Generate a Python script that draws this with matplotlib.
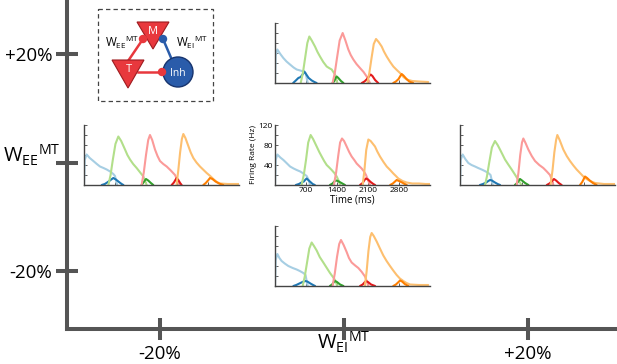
import numpy as np
import matplotlib.pyplot as plt
from matplotlib.patches import Polygon, Circle, Rectangle

plt.rcParams['font.family'] = ['Open Sans', 'DejaVu Sans']
plt.rcParams['mathtext.fontset'] = 'custom'
plt.rcParams['mathtext.rm'] = 'Open Sans'
plt.rcParams['mathtext.it'] = 'Open Sans'

W_PX, H_PX = 617, 364

# colour of each trace (light = leading population, dark = trailing one)
curve_colors = ['#a6cee3', '#1f78b4', '#b2df8a', '#33a02c',
                '#fb9a99', '#e31a1c', '#fdbf6f', '#ff7f00']

# main grid: percent change of the two weights
grid_ticks = [-20, 0, 20]
grid_labels = ['-20%', '', '+20%']

# ---- firing rates (Hz) vs time (ms), one list per trace, order = curve_colors
center_t = [
    [0, 15, 53, 120, 190, 260, 340, 420, 490, 570, 640, 715, 760, 790],
    [470, 540, 600, 650, 690, 715, 750, 800, 850, 900],
    [600, 650, 700, 750, 805, 860, 941, 1000, 1054, 1110, 1167, 1225, 1280, 1340, 1393, 1440, 1470],
    [1240, 1300, 1340, 1377, 1420, 1480, 1540, 1580],
    [1330, 1380, 1430, 1470, 1513, 1560, 1618, 1675, 1731, 1790, 1844, 1900, 1957, 2010, 2055, 2100, 2145],
    [1920, 1980, 2020, 2055, 2100, 2160, 2220, 2260],
    [1980, 2020, 2060, 2108, 2160, 2258, 2310, 2371, 2450, 2522, 2600, 2672, 2730, 2785, 2880, 2973, 3100, 3250, 3400, 3500],
    [2600, 2660, 2710, 2747, 2800, 2870, 2930, 2975],
]
center_r = [
    [0, 50, 61, 55, 50, 44, 37, 33, 30, 27, 23, 18, 10, 0],
    [0, 2, 5, 7, 11, 13, 10, 6, 2, 0],
    [0, 20, 50, 85, 100, 92, 77, 66, 57, 48, 40, 35, 30, 24, 17, 8, 0],
    [0, 3, 7, 9, 8, 5, 2, 0],
    [0, 25, 60, 85, 93, 88, 77, 66, 57, 50, 43, 38, 33, 27, 20, 10, 0],
    [0, 4, 10, 13, 11, 6, 2, 0],
    [0, 30, 70, 91, 88, 77, 67, 57, 46, 37, 30, 23, 18, 13, 8, 5, 3, 3, 2, 2],
    [0, 3, 7, 10, 8, 5, 2, 0],
]

top_t = [
    [0, 15, 53, 120, 188, 260, 339, 420, 489, 570, 640, 690, 715, 740],
    [410, 470, 527, 580, 630, 662, 700, 760, 830, 890, 940],
    [580, 630, 680, 730, 775, 830, 903, 960, 1016, 1090, 1167, 1220, 1280, 1355, 1408],
    [1300, 1340, 1370, 1393, 1430, 1490, 1545],
    [1300, 1350, 1400, 1460, 1528, 1590, 1656, 1710, 1769, 1840, 1919, 2000, 2070, 2110, 2145],
    [1960, 2020, 2080, 2130, 2160, 2200, 2260, 2330],
    [2085, 2130, 2180, 2230, 2281, 2340, 2409, 2460, 2522, 2600, 2672, 2750, 2823, 2900, 2973, 3100, 3250, 3460],
    [2670, 2730, 2790, 2830, 2860, 2900, 2960, 3030, 3120],
]
top_r = [
    [0, 55, 67, 58, 50, 43, 37, 31, 27, 25, 23, 20, 10, 0],
    [0, 5, 10, 12, 18, 23, 18, 10, 5, 2, 0],
    [0, 20, 50, 80, 93, 85, 73, 62, 53, 42, 33, 30, 27, 17, 0],
    [0, 4, 10, 13, 10, 4, 0],
    [0, 20, 50, 85, 100, 85, 67, 56, 47, 38, 30, 22, 13, 6, 0],
    [0, 3, 8, 14, 17, 14, 6, 0],
    [0, 20, 50, 78, 88, 82, 73, 63, 53, 42, 33, 26, 20, 12, 7, 4, 3, 2],
    [0, 3, 8, 14, 18, 15, 9, 3, 0],
]

left_t = [
    [0, 15, 60, 130, 211, 290, 361, 440, 512, 590, 662, 700, 725, 750],
    [400, 470, 540, 600, 662, 720, 790, 850, 890],
    [550, 600, 650, 710, 775, 840, 926, 980, 1039, 1110, 1189, 1260, 1340, 1380, 1415],
    [1300, 1350, 1400, 1450, 1510, 1565],
    [1300, 1350, 1400, 1450, 1490, 1540, 1603, 1660, 1716, 1790, 1867, 1960, 2055, 2110, 2153],
    [1980, 2030, 2070, 2092, 2130, 2170, 2205],
    [2090, 2130, 2170, 2210, 2243, 2290, 2356, 2410, 2469, 2540, 2619, 2700, 2770, 2850, 2920, 3000, 3071, 3250, 3500],
    [2695, 2750, 2800, 2845, 2900, 2970, 3050, 3145],
]
left_r = [
    [0, 50, 61, 54, 48, 42, 37, 34, 31, 27, 22, 18, 8, 0],
    [0, 2, 6, 10, 14, 11, 6, 2, 0],
    [0, 20, 50, 82, 97, 88, 71, 60, 51, 42, 34, 26, 17, 8, 0],
    [0, 6, 12, 9, 4, 0],
    [0, 25, 60, 90, 100, 90, 71, 58, 48, 42, 37, 29, 20, 10, 0],
    [0, 5, 11, 14, 10, 4, 0],
    [0, 30, 65, 92, 102, 94, 78, 65, 54, 45, 37, 30, 24, 18, 12, 6, 3, 2, 2],
    [0, 4, 9, 14, 12, 7, 3, 0],
]

right_t = [
    [0, 15, 60, 120, 188, 260, 339, 410, 489, 560, 640, 690, 715, 740],
    [450, 520, 590, 640, 677, 720, 790, 850, 905],
    [565, 610, 660, 720, 790, 850, 903, 960, 1016, 1090, 1167, 1240, 1317, 1360, 1392],
    [1240, 1290, 1330, 1355, 1400, 1470, 1545],
    [1280, 1320, 1360, 1400, 1430, 1480, 1543, 1620, 1694, 1790, 1882, 1960, 2032, 2075, 2108],
    [1960, 2020, 2080, 2122, 2170, 2230, 2295],
    [2045, 2090, 2130, 2170, 2198, 2250, 2333, 2410, 2484, 2560, 2634, 2710, 2785, 2860, 2935, 3050, 3250, 3500],
    [2710, 2760, 2800, 2823, 2870, 2930, 3000, 3085],
]
right_r = [
    [0, 50, 61, 52, 44, 40, 37, 34, 31, 28, 24, 20, 10, 0],
    [0, 2, 5, 8, 10, 9, 5, 2, 0],
    [0, 18, 45, 75, 88, 80, 71, 61, 51, 41, 31, 21, 10, 4, 0],
    [0, 4, 9, 12, 9, 4, 0],
    [0, 25, 60, 85, 93, 84, 71, 58, 48, 40, 34, 27, 20, 10, 0],
    [0, 3, 8, 12, 9, 4, 0],
    [0, 30, 65, 90, 100, 90, 71, 58, 48, 39, 31, 24, 17, 12, 8, 4, 2, 2],
    [0, 6, 13, 17, 14, 9, 4, 0],
]

bottom_t = [
    [0, 15, 53, 100, 150, 220, 301, 400, 489, 560, 640, 690, 715, 740],
    [415, 480, 550, 620, 677, 730, 800, 860, 905],
    [625, 670, 720, 775, 828, 880, 941, 1010, 1091, 1170, 1242, 1300, 1355, 1385, 1408],
    [1240, 1290, 1330, 1355, 1400, 1470, 1545],
    [1300, 1350, 1400, 1450, 1490, 1550, 1618, 1670, 1731, 1810, 1882, 1960, 2032, 2075, 2108],
    [1920, 1980, 2030, 2055, 2100, 2170, 2260],
    [2030, 2070, 2110, 2150, 2183, 2230, 2296, 2370, 2446, 2520, 2597, 2670, 2747, 2820, 2898, 2970, 3048, 3250, 3460],
    [2670, 2730, 2790, 2823, 2870, 2930, 3010],
]
bottom_r = [
    [0, 52, 64, 56, 50, 45, 40, 36, 33, 30, 26, 22, 10, 0],
    [0, 2, 5, 8, 10, 9, 5, 2, 0],
    [0, 18, 45, 75, 87, 80, 71, 58, 47, 36, 26, 19, 12, 5, 0],
    [0, 3, 8, 10, 8, 3, 0],
    [0, 25, 58, 84, 92, 82, 68, 56, 47, 41, 36, 28, 19, 9, 0],
    [0, 3, 8, 10, 8, 3, 0],
    [0, 30, 70, 98, 106, 100, 89, 75, 61, 50, 40, 31, 22, 15, 10, 6, 3, 2, 2],
    [0, 3, 8, 11, 9, 4, 0],
]

time_ticks = [700, 1400, 2100, 2800]
rate_ticks = [20, 40, 60, 80, 100, 120]


def px_rect(left, bottom, width, height):
    # pixel box (y measured from top) -> figure fraction
    return [left / W_PX, (H_PX - bottom) / H_PX, width / W_PX, height / H_PX]


fig = plt.figure(figsize=(W_PX / 100, H_PX / 100), dpi=100)

# ---- big parameter grid axes
ax = fig.add_axes(px_rect(67, 329, W_PX - 67, 329))
ax.set_xlim(-30.1, 29.7)
ax.set_ylim(-30.6, 29.9)
ax.patch.set_alpha(0)
for s in ['top', 'right']:
    ax.spines[s].set_visible(False)
for s in ['left', 'bottom']:
    ax.spines[s].set_linewidth(2.9)
    ax.spines[s].set_color('#555555')
ax.set_xticks(grid_ticks, grid_labels)
ax.set_yticks(grid_ticks, grid_labels)
ax.tick_params(direction='inout', length=16.5, width=2.9, color='#555555',
               labelsize=13.5, pad=2.5)
ax.tick_params(axis='x', pad=3.5)
ax.annotate(r'$\mathrm{W_{EE}{}^{MT}}$', xy=(0, 0), xycoords=('axes fraction', 'data'),
            xytext=(-5, 0), textcoords='offset points', ha='right', va='baseline',
            fontsize=14.5)
ax.annotate(r'$\mathrm{W_{EI}{}^{MT}}$', xy=(0, 0), xycoords=('data', 'axes fraction'),
            xytext=(0, -15), textcoords='offset points', ha='center', va='baseline',
            fontsize=14.5)


def draw_panel(rect, ts, rs, labelled=False):
    p = fig.add_axes(px_rect(*rect))
    p.patch.set_alpha(0)
    for t, r, c in zip(ts, rs, curve_colors):
        p.plot(t, r, color=c, lw=1.5, solid_capstyle='round')
    p.set_xlim(0, 3500)
    p.set_ylim(0, 120)
    for s in ['top', 'right']:
        p.spines[s].set_visible(False)
    for s in ['left', 'bottom']:
        p.spines[s].set_color('#444444')
        p.spines[s].set_linewidth(1.0)
    p.set_xticks(time_ticks)
    p.set_yticks(rate_ticks)
    p.tick_params(direction='in', length=2, width=0.6, color='#444444',
                  labelsize=6, pad=1.5)
    if labelled:
        p.set_xticklabels([str(v) for v in time_ticks])
        p.set_yticklabels([str(v) if v % 40 == 0 else '' for v in rate_ticks])
        p.set_xlabel('Time (ms)', fontsize=7, labelpad=0)
        p.set_ylabel('Firing Rate (Hz)', fontsize=6, labelpad=1)
    else:
        p.set_xticklabels([])
        p.set_yticklabels([])
    return p


draw_panel((275, 83, 155, 60), top_t, top_r)
draw_panel((84, 185, 155, 60), left_t, left_r)
draw_panel((275, 185, 155, 60), center_t, center_r, labelled=True)
draw_panel((460, 185, 155, 60), right_t, right_r)
draw_panel((275, 286, 155, 60), bottom_t, bottom_r)

# ---- circuit schematic (pixel coordinates)
ov = fig.add_axes([0, 0, 1, 1])
ov.set_xlim(0, W_PX)
ov.set_ylim(H_PX, 0)
ov.axis('off')
ov.patch.set_alpha(0)

red, red_edge = '#e8383d', '#9e1b1f'
blue, blue_edge = '#2a5caa', '#17346e'
ov.add_patch(Rectangle((98, 9), 115, 92, fill=False, ec='#444444', lw=0.9,
                       ls=(0, (3.5, 2.5))))
ov.plot([126, 143], [64, 39], color=red, lw=1.8, zorder=2)
ov.plot([172, 163], [60, 39], color=blue, lw=1.8, zorder=2)
ov.plot([138, 162], [72, 72], color=red, lw=1.8, zorder=2)
ov.add_patch(Circle((143, 39), 3.5, color=red, zorder=4))
ov.add_patch(Circle((163, 39), 3.5, color=blue, zorder=4))
ov.add_patch(Circle((162, 72), 3.5, color=red, zorder=4))
ov.add_patch(Polygon([(137, 22), (169, 22), (153, 49)], closed=True, fc=red,
                     ec=red_edge, lw=0.8, zorder=3))
ov.add_patch(Polygon([(112, 60), (144, 60), (128, 88)], closed=True, fc=red,
                     ec=red_edge, lw=0.8, zorder=3))
ov.add_patch(Circle((178, 72), 15, fc=blue, ec=blue_edge, lw=1.0, zorder=3))
ov.text(153, 32, 'M', color='white', fontsize=8, ha='center', va='center', zorder=5)
ov.text(129, 70, 'T', color='white', fontsize=8, ha='center', va='center', zorder=5)
ov.text(178, 73, 'Inh', color='white', fontsize=7.5, ha='center', va='center', zorder=5)
ov.text(105, 47, r'$\mathrm{W_{EE}{}^{MT}}$', fontsize=8.5, ha='left', va='baseline')
ov.text(176, 47, r'$\mathrm{W_{EI}{}^{MT}}$', fontsize=8.5, ha='left', va='baseline')

fig.savefig('out.png', dpi=100)
